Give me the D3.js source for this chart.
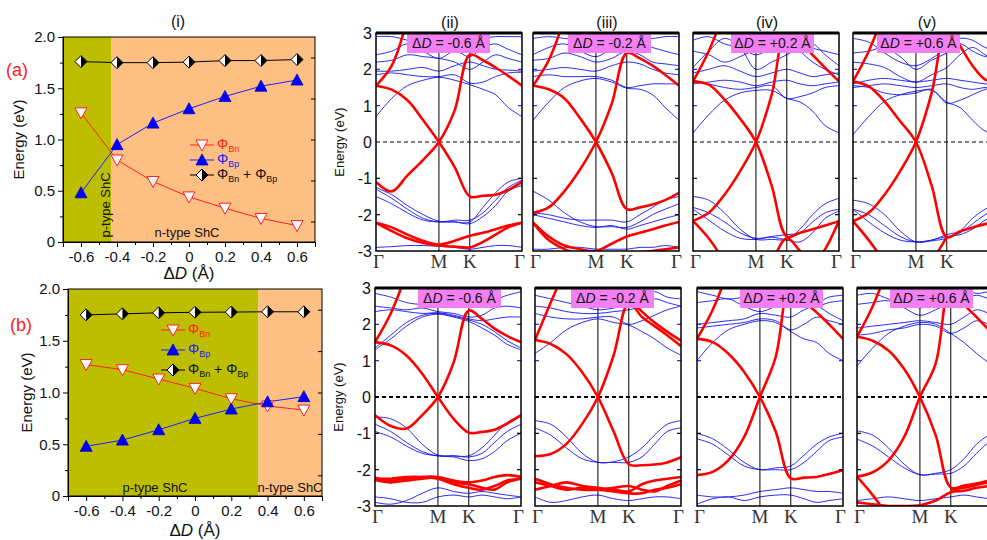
<!DOCTYPE html>
<html>
<head>
<meta charset="utf-8">
<script src="https://cdn.jsdelivr.net/npm/d3@7"></script>
<style>
  body { margin: 0; background: #fff; }
  text { font-family: Arial, "Liberation Sans", sans-serif; }
  .kl { font-family: "Liberation Serif", "Times New Roman", serif; }
</style>
</head>
<body>
<div id="chart"></div>
<script>
// ---- barrier heights, panels (a) and (b) ----
const dD = [-0.6, -0.4, -0.2, 0, 0.2, 0.4, 0.6];
const phiBnA  = [1.26, 0.80, 0.59, 0.44, 0.33, 0.23, 0.16];
const phiBpA  = [0.48, 0.95, 1.16, 1.30, 1.42, 1.52, 1.58];
const phiSumA = [1.76, 1.75, 1.75, 1.755, 1.77, 1.77, 1.78];
const phiBnB  = [1.27, 1.22, 1.13, 1.04, 0.94, 0.87, 0.83];
const phiBpB  = [0.48, 0.54, 0.64, 0.75, 0.84, 0.91, 0.96];
const phiSumB = [1.75, 1.76, 1.77, 1.775, 1.777, 1.78, 1.78];
const yTicksLeft = [0, 0.5, 1.0, 1.5, 2.0];

// ---- band structures: k path Γ-M-K-Γ ----
const kPts = [0, 0.25, 0.5, 0.75, 1, 1.25, 1.49, 1.7, 1.9, 2.1, 2.32];
const kTicks = [0, 1, 1.49, 2.32];
const kLabels = ["Γ", "M", "K", "Γ"];
const eTicks = [-3, -2, -1, 0, 1, 2, 3];
const shiftLabels = ["-0.6", "-0.2", "+0.2", "+0.6"];
const romans = ["(ii)", "(iii)", "(iv)", "(v)"];
const _ = null;

const redTop1 = [
  [1.55, 1.44, 1.15, 0.6, 0, -0.69, -1.5, -1.48, -1.45, -1.32, -1.1],
  [-1.1, -1.36, -0.92, -0.49, 0, 0.87, 2.4, 2.25, 2.05, 1.82, 1.55],
  [1.55, 2.1, 3.4, _, _, _, _, _, _, _, _],
  [-2.22, -2.35, -2.55, -2.72, -2.82, -2.72, -2.58, -2.5, -2.4, -2.3, -2.22],
  [-2.22, -2.45, -2.65, -2.78, -2.85, -2.88, -2.9, -2.75, -2.55, -2.35, -2.22]
];
const blueTop1 = [
  [0.7, 1.2, 1.55, 1.7, 1.78, 1.7, 1.58, 1.45, 1.3, 0.95, 0.7],
  [1.85, 1.9, 1.85, 1.8, 1.8, 1.85, 1.62, 1.65, 1.8, 1.9, 1.92],
  [1.95, 1.95, 2.0, 2.05, 1.95, 2.1, 2.2, 2.1, 2.0, 1.98, 1.95],
  [2.2, 2.25, 2.4, 2.35, 2.3, 2.2, 2.0, 2.2, 2.4, 2.3, 2.2],
  [2.4, 2.5, 2.7, 2.5, 2.3, 2.5, 2.35, 2.6, 2.7, 2.55, 2.4],
  [2.9, 2.9, 2.8, 2.7, 2.65, 2.7, 2.75, 2.85, 2.9, 2.9, 2.9],
  [-1.25, -1.45, -1.75, -2.0, -2.18, -2.2, -2.2, -1.8, -1.4, -1.1, -1.0],
  [-1.3, -1.55, -1.85, -2.1, -2.2, -2.15, -2.15, -1.95, -1.6, -1.25, -1.05],
  [-1.5, -1.7, -1.95, -2.15, -2.2, -2.2, -2.25, -2.05, -1.75, -1.35, -1.2],
  [-2.9, -2.88, -2.85, -2.85, -2.87, -2.9, -2.95, -2.9, -2.85, -2.85, -2.9]
];

const redTop2 = [
  [1.55, 1.45, 1.2, 0.65, 0, -0.85, -1.85, -1.8, -1.72, -1.6, -1.4],
  [-1.95, -1.8, -1.35, -0.75, 0, 1.05, 2.45, 2.3, 2.1, 1.85, 1.55],
  [1.55, 2.25, 3.4, _, _, _, _, _, _, _, _],
  [-2.22, -2.6, -2.85, -2.95, -3.0, -2.8, -2.6, -2.5, -2.4, -2.3, -2.2],
  [-2.22, -2.7, -2.95, -3.1, -3.2, -3.2, -3.1, -3.05, -3.0, -2.95, -2.9]
];
const blueTop2 = [
  [0.6, 1.1, 1.5, 1.68, 1.75, 1.65, 1.48, 1.45, 1.3, 0.95, 0.6],
  [1.8, 1.85, 1.8, 1.8, 1.8, 1.7, 1.5, 1.55, 1.6, 1.6, 1.6],
  [1.95, 2.0, 2.05, 2.0, 1.95, 2.1, 2.2, 2.15, 2.0, 1.9, 1.85],
  [2.25, 2.3, 2.45, 2.35, 2.2, 2.3, 2.5, 2.4, 2.2, 2.15, 2.1],
  [2.4, 2.6, 2.7, 2.5, 2.35, 2.55, 2.6, 2.7, 2.6, 2.5, 2.4],
  [2.85, 2.9, 2.85, 2.8, 2.7, 2.75, 2.8, 2.9, 2.85, 2.9, 2.9],
  [-1.35, -1.6, -1.95, -2.2, -2.33, -2.33, -2.35, -2.2, -2.0, -1.85, -1.7],
  [-1.95, -2.0, -2.1, -2.15, -2.15, -2.15, -2.2, -2.0, -1.8, -1.6, -1.5],
  [-2.0, -2.1, -2.2, -2.3, -2.35, -2.3, -2.4, -2.3, -2.2, -2.1, -2.0],
  [-2.95, -2.95, -2.9, -2.9, -2.95, -2.95, -2.95, -2.9, -2.9, -2.85, -2.9]
];

const redTop3 = [
  [1.67, 1.58, 1.17, 0.64, 0, -1.2, -2.6, -2.5, -2.4, -2.3, -2.18],
  [-2.17, -1.95, -1.45, -0.8, 0, 1.3, 3.2, 2.75, 2.4, 2.04, 1.67],
  [1.67, 2.5, 3.6, _, _, _, _, _, _, _, _],
  [-2.17, -2.65, -3.3, _, _, _, _, _, _, _, _],
  [_, _, _, _, -4, -3.3, -2.65, -3.0, -3.4, -2.95, -2.17]
];
const blueTop3 = [
  [0.25, 0.75, 1.15, 1.35, 1.42, 1.42, 1.2, 1.1, 0.85, 0.45, 0.25],
  [1.7, 1.6, 1.5, 1.45, 1.5, 1.55, 1.2, 1.25, 1.35, 1.5, 1.55],
  [1.6, 1.65, 1.7, 1.65, 1.55, 1.65, 1.7, 1.6, 1.55, 1.6, 1.65],
  [1.9, 2.0, 2.1, 1.95, 1.8, 1.9, 2.0, 1.9, 1.8, 1.85, 1.9],
  [2.05, 2.5, 2.85, 2.6, 2.0, 2.2, 2.4, 2.6, 2.7, 2.4, 2.1],
  [2.5, 2.4, 2.2, 2.35, 2.55, 2.7, 2.9, 3.0, 2.6, 2.5, 2.4],
  [2.8, 2.9, 2.7, 2.6, 2.4, 2.6, 2.8, 2.5, 2.2, 2.0, 1.85],
  [-1.5, -1.6, -1.95, -2.4, -2.68, -2.68, -2.68, -2.4, -2.0, -1.7, -1.55],
  [-1.8, -1.95, -2.2, -2.5, -2.65, -2.6, -2.55, -2.5, -2.2, -1.95, -1.85],
  [-1.85, -2.15, -2.45, -2.65, -2.68, -2.62, -2.7, -2.75, -2.5, -2.1, -1.9]
];

const redTop4 = [
  [1.67, 1.53, 1.12, 0.57, 0, -1.2, -2.62, -2.46, -2.35, -2.26, -2.18],
  [-2.18, -1.95, -1.45, -0.8, 0, 1.35, 3.2, 2.65, 2.1, 1.72, 1.67],
  [1.67, 2.5, 3.6, _, _, _, _, _, _, _, _],
  [-2.18, -2.7, -3.3, _, _, _, _, _, _, _, _],
  [_, _, _, _, -4, -3.3, -2.62, _, _, _, _]
];
const blueTop4 = [
  [0.2, 0.7, 1.12, 1.3, 1.4, 1.42, 1.1, 0.95, 0.6, 0.3, 0.2],
  [1.55, 1.5, 1.35, 1.3, 1.35, 1.45, 1.07, 1.15, 1.3, 1.45, 1.55],
  [1.5, 1.55, 1.6, 1.55, 1.5, 1.55, 1.6, 1.5, 1.45, 1.5, 1.5],
  [1.6, 1.7, 1.75, 1.7, 1.65, 1.7, 1.75, 1.7, 1.65, 1.6, 1.6],
  [2.2, 2.15, 2.05, 1.8, 1.65, 1.85, 2.05, 2.4, 2.6, 2.4, 2.2],
  [2.45, 2.5, 2.6, 2.35, 2.0, 2.25, 2.45, 2.7, 2.5, 2.35, 2.3],
  [2.85, 2.75, 2.45, 2.2, 2.1, 2.3, 2.6, 2.85, 2.8, 2.6, 2.5],
  [-1.6, -1.7, -2.0, -2.45, -2.75, -2.72, -2.65, -2.5, -2.25, -2.0, -1.8],
  [-1.85, -2.0, -2.3, -2.6, -2.75, -2.7, -2.6, -2.55, -2.4, -2.15, -1.95],
  [-1.85, -2.2, -2.5, -2.7, -2.75, -2.7, -2.55, -2.45, -2.1, -1.85, -1.7]
];

const redBot1 = [
  [1.51, 1.42, 1.14, 0.64, 0, -0.6, -0.98, -0.96, -0.9, -0.73, -0.5],
  [-0.5, -0.8, -0.87, -0.5, 0, 0.95, 2.38, 2.15, 1.88, 1.68, 1.51],
  [1.51, 2.3, 3.4, _, _, _, _, _, _, _, _],
  [-2.22, -2.3, -2.25, -2.2, -2.2, -2.3, -2.35, -2.3, -2.2, -2.15, -2.2],
  [-2.28, -2.35, -2.3, -2.25, -2.22, -2.35, -2.4, -2.5, -2.55, -2.35, -2.25],
  [-2.25, -2.25, -2.2, -2.2, -2.25, -2.4, -2.5, -2.55, -2.45, -2.3, -2.25]
];
const blueBot1 = [
  [1.3, 1.6, 1.95, 2.2, 2.28, 2.2, 2.08, 1.9, 1.7, 1.45, 1.3],
  [1.35, 1.7, 2.05, 2.25, 2.3, 2.22, 2.12, 2.0, 1.8, 1.55, 1.35],
  [2.35, 2.4, 2.35, 2.3, 2.32, 2.25, 2.15, 2.1, 2.15, 2.2, 2.2],
  [2.5, 2.45, 2.4, 2.45, 2.35, 2.3, 2.2, 2.25, 2.45, 2.5, 2.45],
  [2.85, 2.75, 2.6, 2.55, 2.6, 2.75, 2.9, 2.85, 2.7, 2.8, 2.9],
  [-0.55, -0.6, -0.85, -1.3, -1.6, -1.62, -1.62, -1.4, -1.05, -0.7, -0.5],
  [-0.75, -0.95, -1.25, -1.5, -1.62, -1.62, -1.65, -1.55, -1.25, -0.95, -0.75],
  [-0.95, -1.1, -1.35, -1.55, -1.62, -1.65, -1.75, -1.7, -1.5, -1.2, -1.0],
  [-2.75, -2.8, -2.9, -2.9, -2.75, -2.7, -2.75, -2.7, -2.75, -2.8, -2.75],
  [-2.9, -2.95, -2.85, -2.65, -2.5, -2.6, -2.65, -2.6, -2.65, -2.7, -2.75]
];

const redBot2 = [
  [1.57, 1.46, 1.18, 0.68, 0, -0.95, -1.85, -1.88, -1.86, -1.8, -1.66],
  [-1.63, -1.57, -1.29, -0.74, 0, 1.15, 2.6, 2.2, 1.95, 1.7, 1.4],
  [1.57, 2.6, 3.6, _, _, _, _, _, _, _, _],
  [_, _, _, _, _, _, 2.75, 2.35, 2.05, 1.8, 1.55],
  [-2.25, -2.4, -2.5, -2.55, -2.55, -2.5, -2.45, -2.55, -2.6, -2.45, -2.3],
  [-2.55, -2.45, -2.35, -2.45, -2.5, -2.55, -2.6, -2.4, -2.3, -2.25, -2.2],
  [-2.35, -2.45, -2.55, -2.5, -2.55, -2.6, -2.65, -2.65, -2.55, -2.5, -2.4]
];
const blueBot2 = [
  [1.2, 1.5, 1.85, 2.05, 2.15, 2.05, 1.98, 1.8, 1.6, 1.35, 1.15],
  [2.3, 2.2, 2.15, 2.15, 2.2, 2.2, 2.0, 2.1, 2.25, 2.4, 2.5],
  [2.5, 2.45, 2.35, 2.3, 2.3, 2.35, 2.4, 2.5, 2.7, 2.6, 2.5],
  [2.8, 2.7, 2.6, 2.5, 2.4, 2.45, 2.55, 2.8, 2.9, 2.75, 2.7],
  [-0.65, -0.75, -1.1, -1.55, -1.8, -1.78, -1.65, -1.4, -1.05, -0.75, -0.65],
  [-0.85, -1.05, -1.4, -1.7, -1.8, -1.8, -1.8, -1.65, -1.3, -0.95, -0.85],
  [-2.75, -2.9, -2.85, -2.75, -2.7, -2.8, -2.85, -2.8, -2.75, -2.75, -2.8]
];

const redBot3 = [
  [1.6, 1.51, 1.19, 0.69, 0, -0.95, -2.24, -2.22, -2.2, -2.12, -2.01],
  [-2.15, -2.06, -1.74, -1.1, 0, 1.1, 3.3, 2.65, 2.33, 2.0, 1.6],
  [1.6, 2.4, 3.5, _, _, _, _, _, _, _, _]
];
const blueBot3 = [
  [1.0, 1.5, 1.85, 2.0, 2.1, 2.05, 1.8, 1.6, 1.5, 1.2, 1.0],
  [1.9, 1.95, 2.0, 2.05, 2.15, 2.1, 1.85, 2.0, 2.2, 2.1, 2.0],
  [2.0, 2.05, 2.1, 2.15, 2.3, 2.25, 2.2, 2.4, 2.5, 2.3, 2.1],
  [2.6, 2.65, 2.7, 2.5, 2.35, 2.5, 2.7, 2.6, 2.5, 2.6, 2.65],
  [2.9, 2.8, 2.7, 2.75, 2.8, 2.9, 2.95, 2.8, 2.6, 2.75, 2.8],
  [-1.0, -1.15, -1.45, -1.8, -2.0, -1.95, -1.9, -1.6, -1.3, -1.1, -1.0],
  [-1.15, -1.3, -1.6, -1.9, -2.0, -2.0, -2.0, -1.8, -1.5, -1.2, -1.1],
  [-2.7, -2.75, -2.75, -2.7, -2.6, -2.55, -2.5, -2.55, -2.6, -2.6, -2.65],
  [-2.95, -2.8, -2.75, -2.85, -2.75, -2.7, -2.7, -2.8, -2.9, -2.85, -2.8]
];

const redBot4 = [
  [1.66, 1.55, 1.28, 0.77, 0, -1.05, -2.49, -2.44, -2.38, -2.3, -2.25],
  [-2.19, -2.07, -1.75, -1.1, 0, 0.92, 3.2, 2.56, 2.2, 1.85, 1.6],
  [1.66, 2.5, 3.6, _, _, _, _, _, _, _, _],
  [-2.19, -2.7, -3.3, _, _, _, _, _, _, _, _],
  [-2.9, -2.95, -3.0, -3.0, -2.98, -2.85, -2.62, -2.58, -2.5, -2.45, -2.4],
  [_, _, _, _, _, _, -2.55, -2.5, -2.42, -2.35, -2.3]
];
const blueBot4 = [
  [0.85, 1.35, 1.75, 1.95, 2.05, 2.0, 1.75, 1.5, 1.2, 0.95, 0.85],
  [1.7, 1.75, 1.85, 1.9, 2.0, 1.95, 1.75, 1.9, 2.1, 2.0, 1.9],
  [1.9, 1.95, 2.0, 2.05, 2.1, 2.05, 2.0, 2.2, 2.4, 2.3, 2.2],
  [2.55, 2.6, 2.65, 2.45, 2.25, 2.4, 2.6, 2.7, 2.8, 2.7, 2.6],
  [2.8, 2.85, 2.7, 2.6, 2.45, 2.6, 2.85, 2.95, 2.85, 2.9, 2.9],
  [-0.93, -1.05, -1.4, -1.85, -2.14, -2.1, -2.0, -1.7, -1.3, -1.05, -0.95],
  [-1.16, -1.35, -1.65, -1.95, -2.14, -2.12, -2.1, -1.9, -1.55, -1.25, -1.15],
  [-2.85, -2.8, -2.75, -2.8, -2.85, -2.8, -2.75, -2.7, -2.75, -2.8, -2.85]
];

const W = 987, H = 540;
const svg = d3.select("#chart").append("svg").attr("width", W).attr("height", H);

const fmtX = d => d === 0 ? "0" : (d < 0 ? "-" : "") + Math.abs(d).toFixed(1);
const fmtY = d => d === 0 ? "0" : d.toFixed(1);
const GREEN = "#bebe00", ORANGE = "#fdbf82";

// label "Φ_Bn", "Φ_Bp", "Φ_Bn + Φ_Bp"
function phiLabel(t, subs) {
  subs.forEach((s, i) => {
    t.append("tspan").attr("font-size", 14).attr("dy", i ? -3 : 0).text((i ? " + " : "") + "Φ");
    t.append("tspan").attr("font-size", 9).attr("dy", 3).text(s);
  });
}

function drawMarker(g, kind, cx, cy) {
  if (kind === "down") {
    g.append("path").attr("d", `M${cx-6},${cy-5} L${cx+6},${cy-5} L${cx},${cy+6} Z`)
      .attr("fill", "#fff").attr("stroke", "#ff2020").attr("stroke-width", 1);
  } else if (kind === "up") {
    g.append("path").attr("d", `M${cx-6},${cy+5} L${cx+6},${cy+5} L${cx},${cy-6} Z`)
      .attr("fill", "#0000ff").attr("stroke", "#0000cc").attr("stroke-width", 0.8);
  } else {
    g.append("path").attr("d", `M${cx},${cy-6} L${cx+6},${cy} L${cx},${cy+6} L${cx-6},${cy} Z`)
      .attr("fill", "#fff").attr("stroke", "#000").attr("stroke-width", 1);
    g.append("path").attr("d", `M${cx},${cy-6} L${cx+6},${cy} L${cx},${cy+6} Z`).attr("fill", "#000");
  }
}

function drawSummary(c) {
  const g = svg.append("g");
  const x = d3.scaleLinear().domain([-0.7, 0.7]).range([c.x0, c.x1]);
  const y = d3.scaleLinear().domain([0, 2]).range([c.y1, c.y0]);

  g.append("rect").attr("x", x(-0.7)).attr("y", c.y0).attr("width", x(c.split) - x(-0.7))
    .attr("height", c.y1 - c.y0).attr("fill", GREEN);
  g.append("rect").attr("x", x(c.split)).attr("y", c.y0).attr("width", x(0.7) - x(c.split))
    .attr("height", c.y1 - c.y0).attr("fill", ORANGE);

  // axes
  const xAx = g.append("g").attr("transform", `translate(0,${c.y1})`)
    .call(d3.axisBottom(x).tickValues(dD).tickFormat(fmtX).tickSize(5).tickPadding(4));
  g.append("g").attr("transform", `translate(0,${c.y1})`)
    .call(d3.axisBottom(x).tickValues([-0.7, -0.5, -0.3, -0.1, 0.1, 0.3, 0.5, 0.7]).tickFormat("").tickSize(3))
    .select(".domain").remove();
  const yAx = g.append("g").attr("transform", `translate(${c.x0},0)`)
    .call(d3.axisLeft(y).tickValues(yTicksLeft).tickFormat(fmtY).tickSize(5).tickPadding(3));
  g.append("g").attr("transform", `translate(${c.x0},0)`)
    .call(d3.axisLeft(y).tickValues([0.25, 0.75, 1.25, 1.75]).tickFormat("").tickSize(3))
    .select(".domain").remove();
  g.append("g").attr("transform", `translate(${c.x1},0)`)
    .call(d3.axisLeft(y).tickValues([0.2, 0.6, 1.0, 1.4, 1.8]).tickFormat("").tickSize(4))
    .select(".domain").remove();
  [xAx, yAx].forEach(a => a.selectAll("text").attr("font-size", 15).attr("fill", "#111"));
  g.append("rect").attr("x", c.x0).attr("y", c.y0).attr("width", c.x1 - c.x0).attr("height", c.y1 - c.y0)
    .attr("fill", "none").attr("stroke", "#000").attr("stroke-width", 1);

  // series
  const line = d3.line().x((d, i) => x(dD[i])).y(d => y(d));
  const series = [
    { v: c.bn, color: "#ff2020", kind: "down" },
    { v: c.bp, color: "#2020ff", kind: "up" },
    { v: c.sum, color: "#000", kind: "dia" }
  ];
  series.forEach(s => {
    g.append("path").attr("d", line(s.v)).attr("fill", "none").attr("stroke", s.color).attr("stroke-width", 1);
  });
  series.forEach(s => s.v.forEach((v, i) => drawMarker(g, s.kind, x(dD[i]), y(v))));

  // legend
  const subs = [["Bn"], ["Bp"], ["Bn", "Bp"]];
  const tc = ["#ff2020", "#2020ff", "#111"];
  series.forEach((s, i) => {
    const ly = c.legY[i];
    g.append("line").attr("x1", c.legX).attr("x2", c.legX + 24).attr("y1", ly).attr("y2", ly)
      .attr("stroke", s.color).attr("stroke-width", 1);
    drawMarker(g, s.kind, c.legX + 12, ly);
    const t = g.append("text").attr("x", c.legX + 27).attr("y", ly + 4).attr("fill", tc[i]);
    phiLabel(t, subs[i]);
  });

  // region labels
  const pt = g.append("text").attr("font-size", 13).attr("fill", "#111").attr("text-anchor", "middle").text("p-type ShC");
  if (c.pRot) pt.attr("transform", `translate(${c.pPos[0]},${c.pPos[1]}) rotate(-90)`);
  else pt.attr("x", c.pPos[0]).attr("y", c.pPos[1]);
  g.append("text").attr("font-size", 13).attr("fill", "#111").attr("text-anchor", "middle")
    .attr("x", c.nPos[0]).attr("y", c.nPos[1]).text("n-type ShC");

  // axis titles
  const xt = g.append("text").attr("x", (c.x0 + c.x1) / 2).attr("y", c.xTitleY).attr("text-anchor", "middle")
    .attr("font-size", 17).attr("fill", "#111");
  xt.append("tspan").text("Δ");
  xt.append("tspan").attr("font-style", "italic").text("D");
  xt.append("tspan").text(" (Å)");
  g.append("text").attr("transform", `translate(${c.yTitleX},${(c.y0 + c.y1) / 2}) rotate(-90)`)
    .attr("text-anchor", "middle").attr("font-size", 15).attr("fill", "#111").text("Energy (eV)");
  g.append("text").attr("x", c.tagPos[0]).attr("y", c.tagPos[1]).attr("font-size", 18)
    .attr("fill", "#ff2020").text(c.tag);
}

drawSummary({
  x0: 63, x1: 315, y0: 37, y1: 242, split: -0.43,
  bn: phiBnA, bp: phiBpA, sum: phiSumA,
  legX: 190, legY: [145, 160, 175],
  pRot: true, pPos: [110, 205], nPos: [187, 237],
  xTitleY: 279, yTitleX: 24, tag: "(a)", tagPos: [6, 76]
});
svg.append("text").attr("x", 178).attr("y", 27).attr("text-anchor", "middle").attr("font-size", 16)
  .attr("fill", "#111").text("(i)");

drawSummary({
  x0: 68, x1: 322, y0: 289, y1: 496, split: 0.35,
  bn: phiBnB, bp: phiBpB, sum: phiSumB,
  legX: 161, legY: [330, 350, 370],
  pRot: false, pPos: [155, 492], nPos: [290, 492],
  xTitleY: 536, yTitleX: 32, tag: "(b)", tagPos: [10, 331]
});

// ---- band panels ----
function drawBands(p) {
  const g = svg.append("g");
  const pw = 146;
  const x = d3.scaleLinear().domain([0, 2.32]).range([p.left, p.left + pw]);
  const y = d3.scaleLinear().domain([-3, 3]).range([p.bottom, p.top]);
  const id = "clip" + p.id;
  g.append("clipPath").attr("id", id).append("rect")
    .attr("x", p.left).attr("y", p.top).attr("width", pw).attr("height", p.bottom - p.top);
  const inner = g.append("g").attr("clip-path", `url(#${id})`);
  const line = d3.line()
    .defined(d => d[1] !== null)
    .x(d => x(d[0])).y(d => y(d[1]))
    .curve(d3.curveCatmullRom.alpha(0.5));
  const toPts = b => b.map((e, i) => [kPts[i], e]);

  inner.selectAll("path.blue").data(p.blue).join("path").attr("class", "blue")
    .attr("d", b => line(toPts(b))).attr("fill", "none")
    .attr("stroke", "#1414f5").attr("stroke-opacity", 0.9).attr("stroke-width", 1);

  [1, 1.49].forEach(k => inner.append("line").attr("x1", x(k)).attr("x2", x(k))
    .attr("y1", p.top).attr("y2", p.bottom).attr("stroke", "#000").attr("stroke-width", 1));
  inner.append("line").attr("x1", p.left).attr("x2", p.left + pw).attr("y1", y(0)).attr("y2", y(0))
    .attr("stroke", "#000").attr("stroke-width", p.dashW).attr("stroke-dasharray", "4,3");

  inner.selectAll("path.red").data(p.red).join("path").attr("class", "red")
    .attr("d", b => line(toPts(b))).attr("fill", "none")
    .attr("stroke", "#ff0000").attr("stroke-width", 2.6).attr("stroke-linejoin", "round");

  // inward ticks on both sides
  [-2, -1, 1, 2].forEach(e => {
    const col = e > 0 ? "#2020ff" : "#000";
    g.append("line").attr("x1", p.left).attr("x2", p.left + 4).attr("y1", y(e)).attr("y2", y(e))
      .attr("stroke", col).attr("stroke-width", 1.2);
    g.append("line").attr("x1", p.left + pw - 4).attr("x2", p.left + pw).attr("y1", y(e)).attr("y2", y(e))
      .attr("stroke", col).attr("stroke-width", 1.2);
  });

  // shift label box
  const bx = p.left + p.boxOff, by = p.top;
  g.append("rect").attr("x", bx).attr("y", by).attr("width", 83).attr("height", 20).attr("fill", "#f47ef4");
  const t = g.append("text").attr("x", bx + 41.5).attr("y", by + 15).attr("text-anchor", "middle")
    .attr("font-size", 14).attr("fill", "#111");
  t.append("tspan").text("Δ");
  t.append("tspan").attr("font-style", "italic").text("D");
  t.append("tspan").text(" = " + p.shift + " Å");

  // frame
  g.append("rect").attr("x", p.left).attr("y", p.top).attr("width", pw).attr("height", p.bottom - p.top)
    .attr("fill", "none").attr("stroke", "#000").attr("stroke-width", 1.5);
  g.append("line").attr("x1", p.left).attr("x2", p.left + pw).attr("y1", p.top).attr("y2", p.top)
    .attr("stroke", "#000").attr("stroke-width", 3);

  // k labels (skip any that would fall past the page edge)
  kTicks.forEach((k, i) => {
    if (x(k) > W - 2) return;
    const anchor = i === 0 ? "start" : (i === 3 ? "end" : "middle");
    g.append("text").attr("class", "kl").attr("x", x(k) + (i === 0 ? -3 : i === 3 ? 3 : 0))
      .attr("y", p.bottom + 17).attr("text-anchor", anchor).attr("font-size", 19).attr("fill", "#333")
      .text(kLabels[i]);
  });

  if (p.showY) {
    eTicks.forEach(e => g.append("text").attr("x", p.left - 4).attr("y", y(e) + 6)
      .attr("text-anchor", "end").attr("font-size", 16).attr("fill", "#111").text(e));
    g.append("text").attr("transform", `translate(${p.left - 32},${(p.top + p.bottom) / 2}) rotate(-90)`)
      .attr("text-anchor", "middle").attr("font-size", 13).attr("fill", "#111").text("Energy (eV)");
  }
  if (p.title) {
    g.append("text").attr("x", p.left + 74).attr("y", 28).attr("text-anchor", "middle")
      .attr("font-size", 16).attr("fill", "#111").text(p.title);
  }
}

const topLefts = [376, 533, 693, 853];
const botLefts = [375, 535, 697, 857];
const topBox = [31, 35, 38, 24];
const botBox = [43, 36, 43, 33];
const topRed = [redTop1, redTop2, redTop3, redTop4];
const topBlue = [blueTop1, blueTop2, blueTop3, blueTop4];
const botRed = [redBot1, redBot2, redBot3, redBot4];
const botBlue = [blueBot1, blueBot2, blueBot3, blueBot4];

topLefts.forEach((l, i) => drawBands({
  id: "t" + i, left: l, top: 33, bottom: 251, red: topRed[i], blue: topBlue[i],
  shift: shiftLabels[i], boxOff: topBox[i], showY: i === 0, title: romans[i], dashW: 1
}));
botLefts.forEach((l, i) => drawBands({
  id: "b" + i, left: l, top: 288, bottom: 506, red: botRed[i], blue: botBlue[i],
  shift: shiftLabels[i], boxOff: botBox[i], showY: i === 0, title: null, dashW: 2
}));
</script>
</body>
</html>
